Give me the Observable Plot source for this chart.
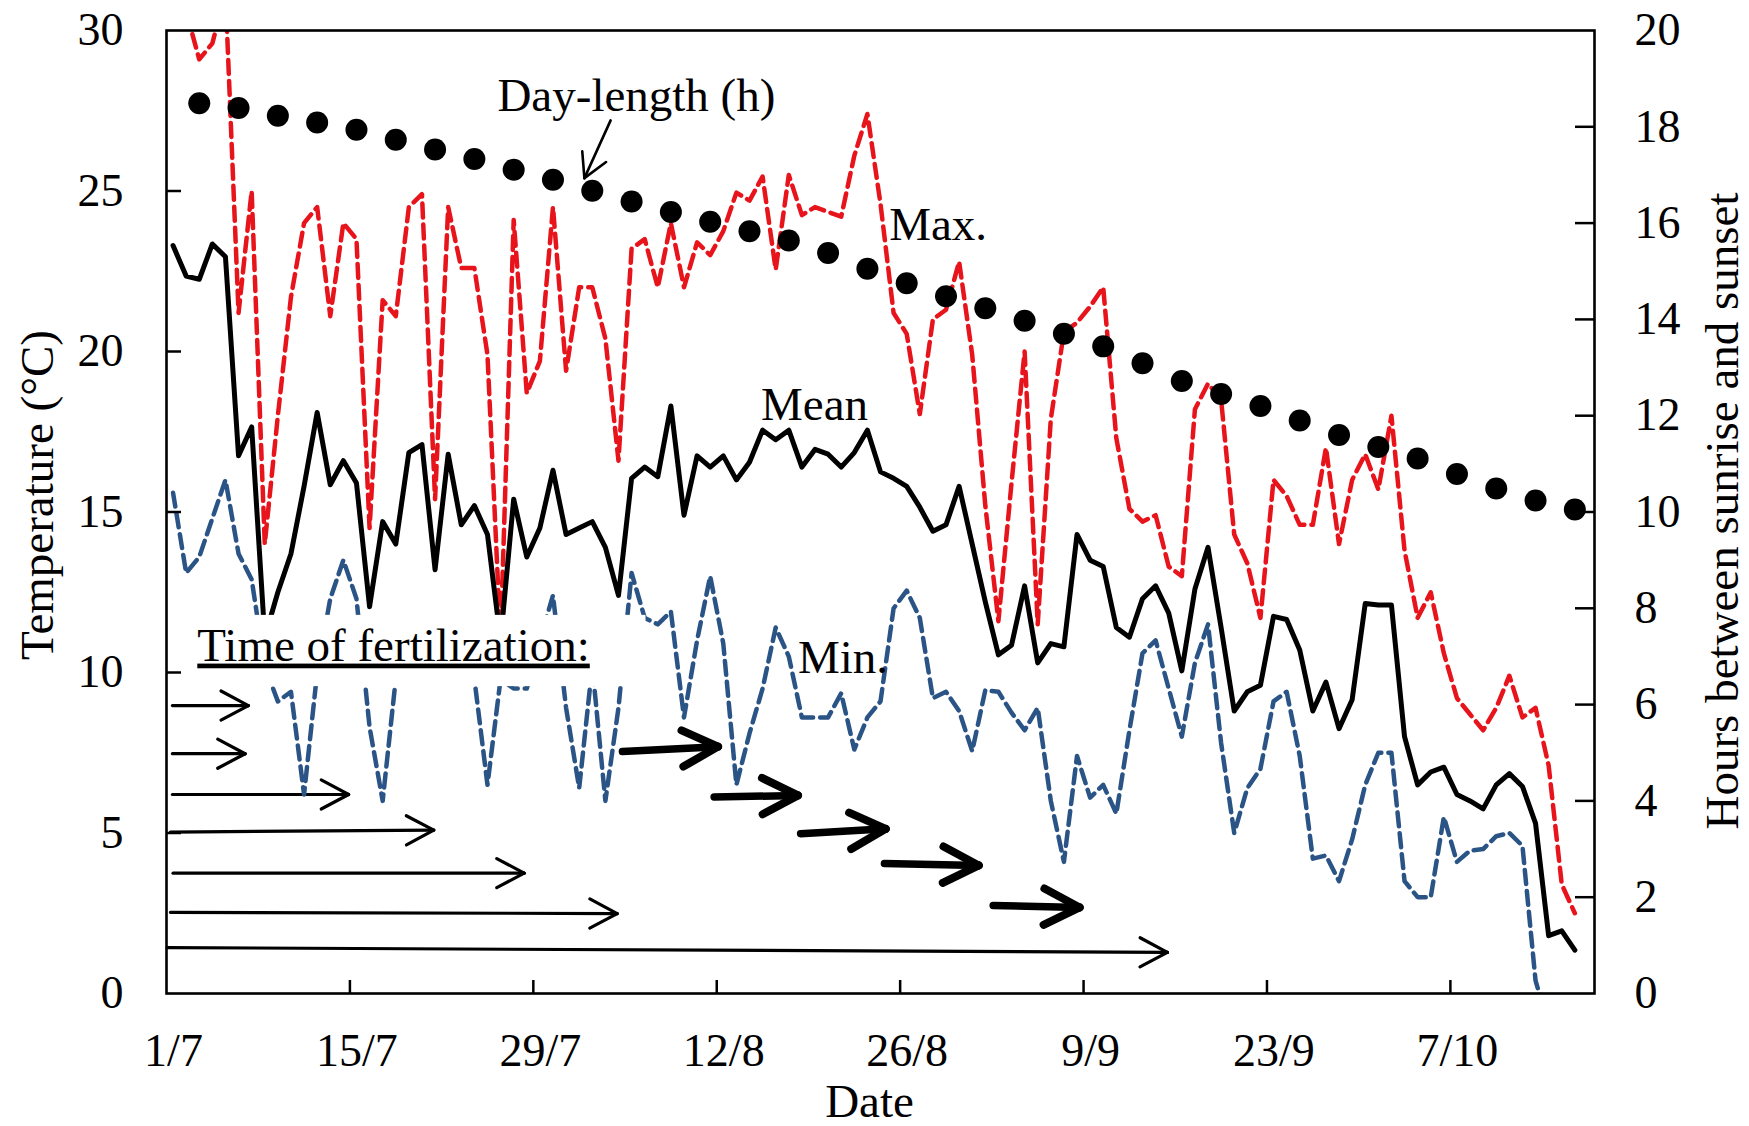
<!DOCTYPE html>
<html>
<head>
<meta charset="utf-8">
<script src="https://cdn.jsdelivr.net/npm/d3@7"></script>
<script src="https://cdn.jsdelivr.net/npm/@observablehq/plot@0.6"></script>
<style>
  html, body { margin: 0; padding: 0; background: #fff; }
  #chart { width: 1749px; height: 1126px; }
</style>
</head>
<body>
<div id="chart"></div>
<script>
// ---------------- DATA ----------------
// x axis: day index from 1/7 (day 0); tick labels as printed
const tickDays   = [0, 14, 28, 42, 56, 70, 84, 98];
const tickLabels = ["1/7", "15/7", "29/7", "12/8", "26/8", "9/9", "23/9", "7/10"];
const tempTicks  = [0, 5, 10, 15, 20, 25, 30];
const hourTicks  = [0, 2, 4, 6, 8, 10, 12, 14, 16, 18, 20];

// daily temperatures (°C), one value per day starting 1/7
const meanTemp = [
  23.3, 22.35, 22.25, 23.35, 22.95, 16.75, 17.65, 11.1, 12.5, 13.7,
  15.8, 18.1, 15.85, 16.6, 15.9, 12.05, 14.7, 14.0, 16.85, 17.1,
  13.2, 16.8, 14.6, 15.2, 14.3, 11.0, 15.4, 13.6, 14.5, 16.3,
  14.3, 14.5, 14.7, 13.9, 12.4, 16.05, 16.4, 16.1, 18.3, 14.9,
  16.75, 16.4, 16.75, 16.0, 16.55, 17.55, 17.25, 17.55, 16.4, 16.95,
  16.8, 16.4, 16.85, 17.55, 16.25, 16.05, 15.8, 15.15, 14.4, 14.6,
  15.8, 14.0, 12.2, 10.55, 10.85, 12.7, 10.3, 10.9, 10.8, 14.3,
  13.5, 13.3, 11.4, 11.1, 12.3, 12.7, 11.85, 10.05, 12.6, 13.9,
  11.4, 8.8, 9.4, 9.6, 11.75, 11.65, 10.7, 8.8, 9.7, 8.25,
  9.15, 12.15, 12.1, 12.1, 8.0, 6.5, 6.9, 7.05, 6.2, 6.0,
  5.75, 6.5, 6.85, 6.45, 5.3, 1.8, 1.95, 1.35
];
const maxTemp = [
  31.0, 30.6, 29.1, 29.6, 31.2, 21.2, 25.0, 14.0, 18.0, 21.7,
  24.0, 24.5, 21.1, 24.0, 23.5, 14.5, 21.6, 21.1, 24.5, 24.9,
  15.4, 24.5, 22.6, 22.6, 19.9, 11.0, 24.1, 18.7, 19.7, 24.5,
  19.4, 22.0, 22.0, 20.4, 16.6, 23.2, 23.5, 22.0, 24.0, 22.0,
  23.4, 23.0, 23.75, 24.95, 24.7, 25.45, 22.55, 25.5, 24.25, 24.5,
  24.35, 24.2, 26.1, 27.4, 24.6, 21.2, 20.55, 18.05, 21.0, 21.3,
  22.8, 19.9, 15.2, 11.6, 15.9, 20.0, 11.5, 17.9, 20.6, 20.9,
  21.4, 22.0, 17.3, 15.1, 14.7, 14.9, 13.3, 13.0, 18.2, 19.0,
  18.5, 14.3, 13.4, 11.7, 16.0, 15.5, 14.6, 14.6, 17.0, 14.0,
  16.0, 16.8, 15.7, 18.0, 13.8, 11.7, 12.5, 10.6, 9.2, 8.7,
  8.2, 8.9, 9.9, 8.6, 8.9, 7.1, 3.4, 2.5
];
const minTemp = [
  15.6, 13.1, 13.6, 14.8, 16.0, 13.7, 12.9, 10.2, 9.1, 9.4,
  6.2, 10.0, 12.3, 13.5, 12.3, 8.3, 6.0, 9.8, 10.8, 11.2,
  10.8, 11.0, 10.6, 9.8, 6.5, 9.8, 9.5, 9.5, 11.0, 12.4,
  8.9, 6.4, 10.2, 6.0, 8.9, 13.1, 11.7, 11.5, 11.9, 8.6,
  11.0, 13.0, 10.9, 6.5, 8.1, 9.5, 11.4, 10.5, 8.6, 8.6,
  8.6, 9.35, 7.6, 8.6, 9.1, 12.0, 12.55, 11.7, 9.2, 9.4,
  8.8, 7.55, 9.45, 9.4, 8.75, 8.2, 8.9, 6.0, 4.1, 7.4,
  6.1, 6.5, 5.6, 8.2, 10.6, 11.0, 9.5, 8.0, 10.3, 11.5,
  7.8, 5.0, 6.4, 7.0, 9.1, 9.4, 7.4, 4.2, 4.3, 3.5,
  4.8, 6.5, 7.5, 7.5, 3.5, 3.0, 3.0, 5.5, 4.1, 4.45,
  4.5, 4.9, 5.0, 4.6, 0.4, -1.0
];

// day-length (hours between sunrise and sunset), every third day
const dayLengthDays  = [2, 5, 8, 11, 14, 17, 20, 23, 26, 29, 32, 35, 38, 41, 44, 47, 50, 53,
                        56, 59, 62, 65, 68, 71, 74, 77, 80, 83, 86, 89, 92, 95, 98, 101, 104, 107];
const dayLengthHours = [18.49, 18.39, 18.23, 18.09, 17.94, 17.73, 17.53, 17.33, 17.11, 16.90,
                        16.67, 16.45, 16.23, 16.03, 15.83, 15.64, 15.38, 15.05, 14.75, 14.48,
                        14.23, 13.97, 13.70, 13.44, 13.09, 12.72, 12.45, 12.20, 11.90, 11.60,
                        11.35, 11.11, 10.79, 10.49, 10.24, 10.05];

// fertilization periods (arrows): start/end day and level on the temperature scale
const fertStartDay  = [0.45, 0.45, 0.45, 0.3, 0.5, 0.3, 0.05, 34.8, 41.8, 48.4, 54.8, 63.1];
const fertEndDay    = [6.25, 6.0, 13.9, 20.4, 27.3, 34.4, 76.4, 42.1, 48.2, 54.9, 62.0, 69.7];
const fertStartTemp = [8.97, 7.47, 6.2, 5.03, 3.75, 2.53, 1.43, 7.54, 6.12, 4.98, 4.05, 2.74];
const fertEndTemp   = [8.97, 7.47, 6.2, 5.09, 3.75, 2.49, 1.28, 7.69, 6.17, 5.13, 3.99, 2.68];
const fertBold      = [false, false, false, false, false, false, false, true, true, true, true, true];

// text annotations (anchored at left edge, vertical middle)
const noteText = ["Day-length (h)", "Max.", "Mean", "Min.", "Time of fertilization:"];
const noteDay  = [25.26, 55.16, 45.38, 48.2, 2.35];
const noteTemp = [27.97, 23.93, 18.32, 10.44, 10.84];
// pointer from "Day-length (h)" to the dots
const pointerDays  = [33.9, 31.9];
const pointerTemps = [27.2, 25.4];
// white text box behind "Time of fertilization:"
const boxDays  = [0.3, 36.6];
const boxTemps = [9.56, 11.78];

// ---------------- LAYOUT / STYLE ----------------
const W = 1749, H = 1126;
const M = {top: 30, right: 155, bottom: 133, left: 166};
const xDomain = [0, 109], yDomain = [0, 30];
const hourToTemp = 30 / 20;          // right axis 0–20 h maps onto 0–30 °C
const slot = 0.5;                    // points sit in the middle of each day
const FONT = '"Liberation Serif", "Times New Roman", Times, serif';
const RED = "#e8141c", BLUE = "#2b5486";

const kx = (W - M.left - M.right) / (xDomain[1] - xDomain[0]);
const ky = (H - M.top - M.bottom) / (yDomain[1] - yDomain[0]);
function wings(a, len, halfDeg) {
  const dx = (a.x2 - a.x1) * kx, dy = -(a.y2 - a.y1) * ky;
  const L = Math.hypot(dx, dy), ux = -dx / L, uy = -dy / L;
  const t = halfDeg * Math.PI / 180;
  return [-1, 1].map(s => {
    const c = Math.cos(s * t), sn = Math.sin(s * t);
    const bx = ux * c - uy * sn, by = ux * sn + uy * c;
    return {x1: a.x2, y1: a.y2, x2: a.x2 + bx * len / kx, y2: a.y2 - by * len / ky};
  });
}

const arrows = fertStartDay.map((d, i) => ({
  x1: d, x2: fertEndDay[i], y1: fertStartTemp[i], y2: fertEndTemp[i], bold: fertBold[i]
}));
const thin = arrows.filter(a => !a.bold), bold = arrows.filter(a => a.bold);
const thinWings = thin.flatMap(a => wings(a, 31, 28));
const boldWings = bold.flatMap(a => wings(a, 40, 27));
const pointer = [{x1: pointerDays[0], y1: pointerTemps[0], x2: pointerDays[1], y2: pointerTemps[1]}];
const pointerWings = pointer.flatMap(a => wings(a, 27, 29));

const notes = noteText.map((t, i) => ({text: t, x: noteDay[i], y: noteTemp[i]}));
const dots = dayLengthDays.map((d, i) => ({x: d + slot, h: dayLengthHours[i]}));
const tickLabelOf = new Map(tickDays.map((d, i) => [d, tickLabels[i]]));
const hourTickT = hourTicks.map(h => h * hourToTemp);
const hourLabelOf = new Map(hourTicks.map(h => [h * hourToTemp, String(h)]));

const link = (data, sw) => Plot.link(data, {
  x1: "x1", y1: "y1", x2: "x2", y2: "y2", stroke: "black", strokeWidth: sw, strokeLinecap: "round"
});

const svg = Plot.plot({
  width: W, height: H,
  marginTop: M.top, marginRight: M.right, marginBottom: M.bottom, marginLeft: M.left,
  x: {domain: xDomain},
  y: {domain: yDomain},
  style: {fontFamily: FONT, fontSize: "46px", color: "black", background: "white"},
  marks: [
    // fertilization arrows
    link(thin, 3.2), link(thinWings, 3.2),
    link(bold, 7.5), link(boldWings, 8),
    // temperature series
    Plot.line(minTemp, {x: (d, i) => i + slot, y: d => d, stroke: BLUE, strokeWidth: 4.5,
      strokeDasharray: "14,7", clip: true}),
    Plot.line(maxTemp, {x: (d, i) => i + slot, y: d => d, stroke: RED, strokeWidth: 4.5,
      strokeDasharray: "14,7", clip: true}),
    Plot.line(meanTemp, {x: (d, i) => i + slot, y: d => d, stroke: "black", strokeWidth: 5,
      clip: true}),
    // day-length dots (right axis)
    Plot.dot(dots, {x: "x", y: d => d.h * hourToTemp, r: 11, fill: "black"}),
    // text box + annotations
    Plot.rect([0], {x1: () => boxDays[0], x2: () => boxDays[1], y1: () => boxTemps[0], y2: () => boxTemps[1], fill: "white"}),
    Plot.text(notes, {x: "x", y: "y", text: "text", textAnchor: "start", lineAnchor: "middle",
      fontSize: 47, fill: "black"}),
    link(pointer, 2.6), link(pointerWings, 2.6),
    Plot.frame({stroke: "black", strokeWidth: 2.6}),
    // axes: ticks (inward) and labels
    Plot.axisX(tickDays.slice(1), {anchor: "bottom", tickSize: -13, tickFormat: () => "", strokeWidth: 2.5}),
    Plot.axisX(tickDays, {anchor: "bottom", tickSize: 0, tickPadding: 40, dx: 7,
      tickFormat: d => tickLabelOf.get(d), fontSize: 46, label: null}),
    Plot.axisY(tempTicks.slice(1, -1), {anchor: "left", tickSize: -15, tickFormat: () => "", strokeWidth: 2.5}),
    Plot.axisY(tempTicks, {anchor: "left", tickSize: 0, tickPadding: 43, fontSize: 46, label: null}),
    Plot.axisY(hourTickT.slice(1, -1), {anchor: "right", tickSize: -20, tickFormat: () => "", strokeWidth: 2.5}),
    Plot.axisY(hourTickT, {anchor: "right", tickSize: 0, tickPadding: 40, fontSize: 46,
      tickFormat: t => hourLabelOf.get(t), label: null}),
    // axis titles
    Plot.text(["Temperature (°C)"], {frameAnchor: "left", textAnchor: "middle", lineAnchor: "middle",
      dx: -129, dy: -17, rotate: -90, fontSize: 47}),
    Plot.text(["Hours between sunrise and sunset"], {frameAnchor: "right", textAnchor: "middle", lineAnchor: "middle",
      dx: 128, dy: -1, rotate: -90, fontSize: 47}),
    Plot.text(["Date"], {frameAnchor: "bottom", textAnchor: "middle", lineAnchor: "middle",
      dx: -11, dy: 108, fontSize: 47})
  ]
});

d3.select(svg).selectAll("text")
  .filter(function () { return this.textContent === "Time of fertilization:"; })
  .style("text-decoration", "underline");

document.getElementById("chart").appendChild(svg);
</script>
</body>
</html>
